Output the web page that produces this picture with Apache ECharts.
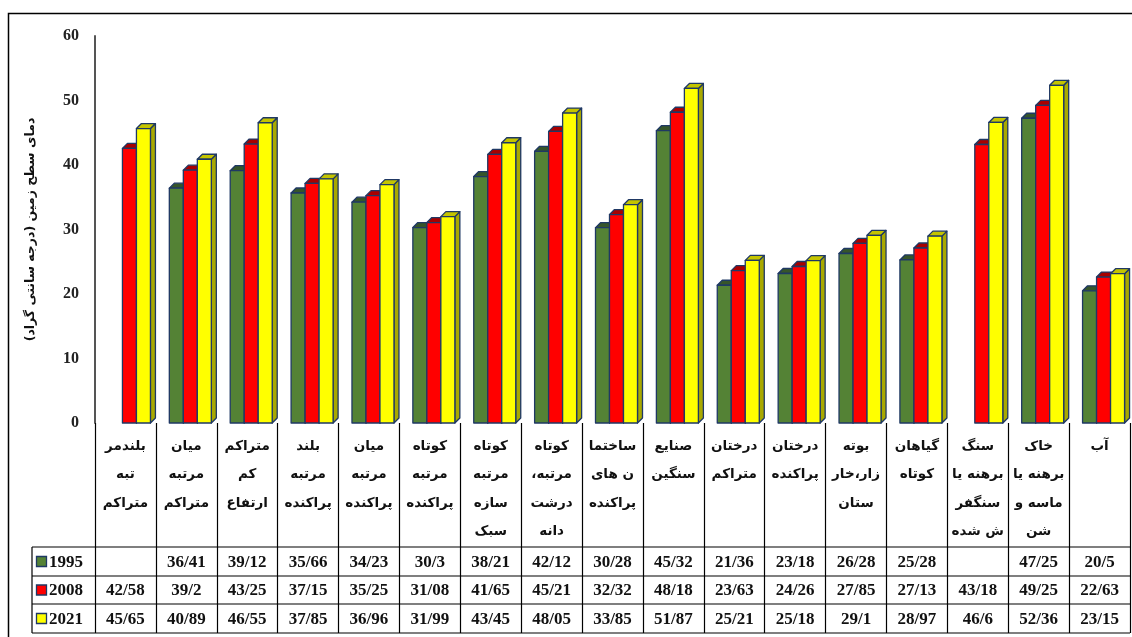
<!DOCTYPE html>
<html><head><meta charset="utf-8">
<script src="https://cdn.jsdelivr.net/npm/echarts@6/dist/echarts.min.js"></script>
<style>html,body{margin:0;padding:0;background:#fff}#c{width:1132px;height:637px}</style>
</head><body><div id="c"></div>
<script>
const categories = [
  "بلندمر\nتبه\nمتراکم",
  "میان\nمرتبه\nمتراکم",
  "متراکم\nکم\nارتفاع",
  "بلند\nمرتبه\nپراکنده",
  "میان\nمرتبه\nپراکنده",
  "کوتاه\nمرتبه\nپراکنده",
  "کوتاه\nمرتبه\nسازه\nسبک",
  "کوتاه\nمرتبه،\nدرشت\nدانه",
  "ساختما\nن های\nپراکنده",
  "صنایع\nسنگین",
  "درختان\nمتراکم",
  "درختان\nپراکنده",
  "بوته\nزار،خار\nستان",
  "گیاهان\nکوتاه",
  "سنگ\nبرهنه یا\nسنگفر\nش شده",
  "خاک\nبرهنه یا\nماسه و\nشن",
  "آب"
];
const years = ["1995", "2008", "2021"];
const v1995 = [null, 36.41, 39.12, 35.66, 34.23, 30.3, 38.21, 42.12, 30.28, 45.32, 21.36, 23.18, 26.28, 25.28, null, 47.25, 20.5];
const v2008 = [42.58, 39.2, 43.25, 37.15, 35.25, 31.08, 41.65, 45.21, 32.32, 48.18, 23.63, 24.26, 27.85, 27.13, 43.18, 49.25, 22.63];
const v2021 = [45.65, 40.89, 46.55, 37.85, 36.96, 31.99, 43.45, 48.05, 33.85, 51.87, 25.21, 25.18, 29.1, 28.97, 46.6, 52.36, 23.15];
const yMin = 0, yMax = 60, yInterval = 10;
const yAxisName = "دمای سطح زمین (درجه سانتی گراد)";

const RLM = "\u200F";
const seriesValues = [v1995, v2008, v2021];
const frontColors = ["#548235", "#ff0000", "#ffff00"];
const topColors = ["#36552a", "#a80000", "#c4c400"];
const sideColors = ["#3d6127", "#b80000", "#a9a900"];
const EDGE = "#1f3864";
const TABLE_Y = [547, 576, 604, 633];
const LEFT_TABLE = 32, RIGHT_EDGE = 1130;

function fmt(v) { return v == null ? "" : String(v).replace(".", "/"); }
function rtl(s) { return s.split("\n").map(l => RLM + l + RLM).join("\n"); }

function make3D(k) {
  return function (params, api) {
    const v = api.value(1);
    if (v == null || isNaN(v)) return null;
    const idx = api.value(0);
    const base = api.coord([idx, 0]);
    const tp = api.coord([idx, v]);
    const bw = 14, d = 5;
    const x0 = base[0] + 4 - 1.5 * bw + k * bw, x1 = x0 + bw;
    const yT = tp[1], yB = base[1];
    const st = (f) => ({ fill: f, stroke: EDGE, lineWidth: 1.3, lineJoin: "round" });
    return {
      type: "group",
      children: [
        { type: "polygon", shape: { points: [[x1, yB], [x1 + d, yB - d], [x1 + d, yT - d], [x1, yT]] }, style: st(sideColors[k]) },
        { type: "polygon", shape: { points: [[x0, yT], [x0 + d, yT - d], [x1 + d, yT - d], [x1, yT]] }, style: st(topColors[k]) },
        { type: "rect", shape: { x: x0, y: yT, width: bw, height: yB - yT }, style: st(frontColors[k]) }
      ]
    };
  };
}

const barSeries = years.map((y, k) => ({
  name: y,
  type: "custom",
  renderItem: make3D(k),
  encode: { x: 0, y: 1 },
  data: seriesValues[k].map((v, i) => [i, v == null ? "-" : v]),
  silent: true
}));

const tableSeries = {
  type: "custom",
  name: "table",
  silent: true,
  encode: { x: 0, y: 1 },
  data: categories.map((c, i) => [i, 0]),
  renderItem: function (params, api) {
    const idx = api.value(0);
    const x = api.coord([idx, 0])[0];
    const children = seriesValues.map((arr, k) => ({
      type: "text",
      style: {
        text: fmt(arr[idx]),
        x: x, y: (TABLE_Y[k] + TABLE_Y[k + 1]) / 2 + 1,
        textAlign: "center", textVerticalAlign: "middle",
        font: "bold 17px 'Liberation Serif'", fill: "#111"
      }
    }));
    return { type: "group", children: children };
  }
};

const graphics = [
  { type: "rect", shape: { x: 8.5, y: 13.5, width: 1200, height: 700 }, style: { fill: "none", stroke: "#000", lineWidth: 1.5 }, silent: true, z: 100 }
];
TABLE_Y.forEach((y) => {
  graphics.push({ type: "line", shape: { x1: LEFT_TABLE, y1: y, x2: RIGHT_EDGE, y2: y }, style: { stroke: "#000", lineWidth: 1.2 }, silent: true });
});
graphics.push({ type: "line", shape: { x1: LEFT_TABLE, y1: TABLE_Y[0], x2: LEFT_TABLE, y2: TABLE_Y[3] }, style: { stroke: "#000", lineWidth: 1.2 }, silent: true });
years.forEach((y, k) => {
  const cy = (TABLE_Y[k] + TABLE_Y[k + 1]) / 2;
  graphics.push({ type: "rect", shape: { x: 36.5, y: cy - 5, width: 10, height: 10 }, style: { fill: frontColors[k], stroke: EDGE, lineWidth: 1.3 }, silent: true });
  graphics.push({ type: "text", style: { text: y, x: 49, y: cy + 1, textAlign: "left", textVerticalAlign: "middle", font: "bold 17px 'Liberation Serif'", fill: "#111" }, silent: true });
});

const chart = echarts.init(document.getElementById("c"), null, { renderer: "canvas" });
chart.setOption({
  animation: false,
  backgroundColor: "#fff",
  grid: { left: 95, right: 1132 - RIGHT_EDGE, top: 36, bottom: 637 - 423, containLabel: false },
  xAxis: {
    type: "category",
    data: categories,
    boundaryGap: true,
    axisLine: { show: false },
    axisTick: { show: true, interval: 0, length: 633 - 423, lineStyle: { color: "#000", width: 1.2 } },
    axisLabel: {
      interval: 0, margin: 9, color: "#111",
      fontFamily: "'DejaVu Sans'", fontWeight: "bold", fontSize: 13.5, lineHeight: 28.5,
      verticalAlign: "top",
      formatter: (v) => rtl(v)
    }
  },
  yAxis: {
    type: "value",
    min: yMin, max: yMax, interval: yInterval,
    name: RLM + yAxisName + RLM,
    nameLocation: "middle",
    nameRotate: 90,
    nameGap: 58,
    nameTextStyle: { fontFamily: "'DejaVu Sans'", fontWeight: "bold", fontSize: 12.5, color: "#111" },
    axisLine: { show: true, lineStyle: { color: "#555", width: 2 } },
    axisTick: { show: false },
    splitLine: { show: false },
    axisLabel: { margin: 16, color: "#222", fontFamily: "'Liberation Serif'", fontWeight: "bold", fontSize: 16, padding: [5, 0, 0, 0] }
  },
  graphic: graphics,
  series: barSeries.concat([tableSeries])
});
</script></body></html>
